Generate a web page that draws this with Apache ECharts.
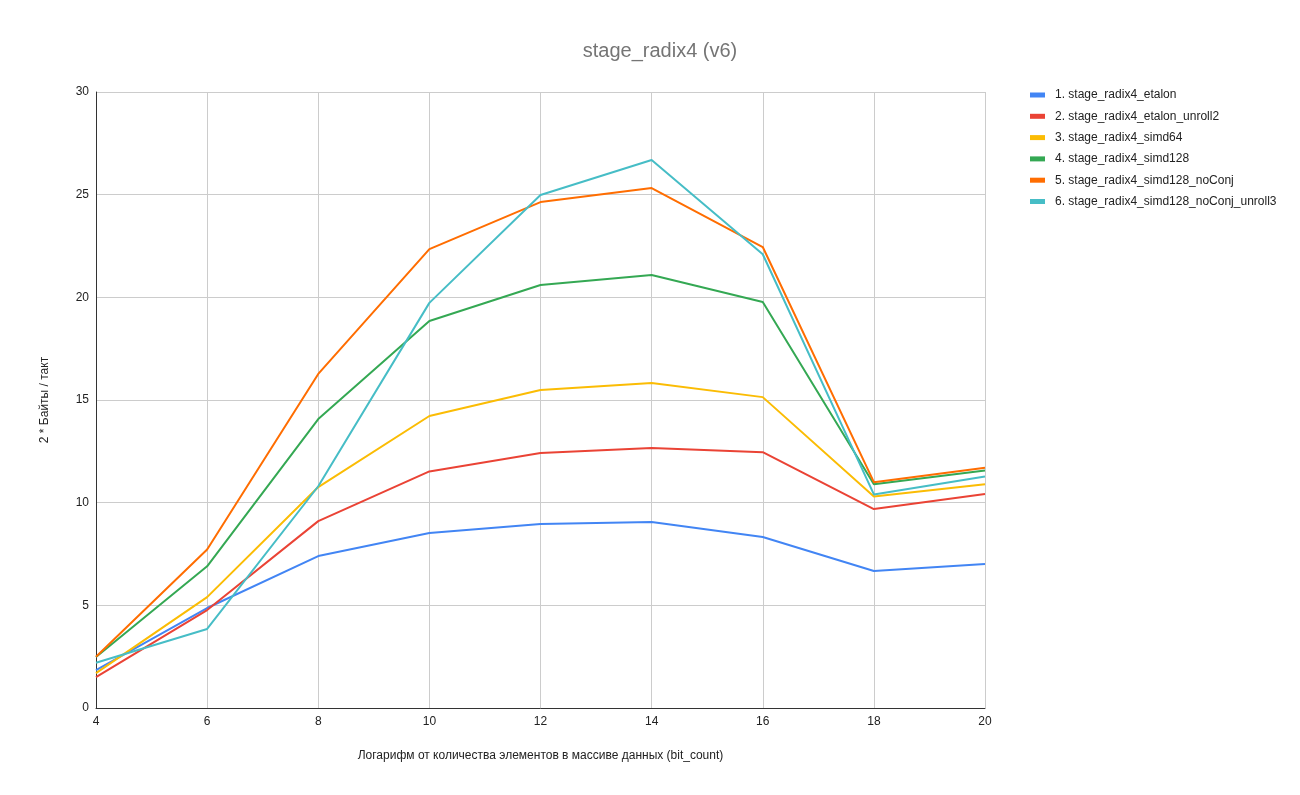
<!DOCTYPE html>
<html>
<head>
<meta charset="utf-8">
<script src="https://cdn.jsdelivr.net/npm/echarts@6/dist/echarts.min.js"></script>
<style>
  html, body { margin: 0; padding: 0; background: #fff; }
  #main { width: 1300px; height: 795px; }
</style>
</head>
<body>
<div id="main"></div>
<script>
// log2 of element count
var bitCount = [4, 6, 8, 10, 12, 14, 16, 18, 20]

var seriesNames = [
	'1. stage_radix4_etalon',
	'2. stage_radix4_etalon_unroll2',
	'3. stage_radix4_simd64',
	'4. stage_radix4_simd128',
	'5. stage_radix4_simd128_noConj',
	'6. stage_radix4_simd128_noConj_unroll3'
]

var etalon        = [1.85, 4.87, 7.40, 8.52, 8.96, 9.06, 8.33, 6.67, 7.01]
var etalonUnroll2 = [1.50, 4.77, 9.10, 11.52, 12.42, 12.66, 12.46, 9.69, 10.42]
var simd64        = [1.70, 5.40, 10.76, 14.22, 15.49, 15.83, 15.14, 10.30, 10.90]
var simd128       = [2.48, 6.90, 14.07, 18.85, 20.60, 21.09, 19.77, 10.90, 11.57]
var noConj        = [2.50, 7.72, 16.27, 22.35, 24.64, 25.32, 22.45, 11.00, 11.70]
var noConjUnroll3 = [2.20, 3.85, 10.80, 19.73, 24.98, 26.69, 22.10, 10.40, 11.27]

var colors = ['#4285F4', '#EA4335', '#FBBC04', '#34A853', '#FF6D01', '#46BDC6']

var allValues = [etalon, etalonUnroll2, simd64, simd128, noConj, noConjUnroll3]

var font = 'Arial, "Liberation Sans", sans-serif'

var chart = echarts.init(document.getElementById('main'))

var option = {
	animation: false,
	color: colors,
	textStyle: {fontFamily: font},
	title: {
		text: 'stage_radix4 (v6)',
		left: 655,
		textAlign: 'center',
		top: 36,
		textStyle: {fontFamily: font, fontSize: 20, fontWeight: 'normal', color: '#757575'}
	},
	legend: {
		orient: 'vertical',
		left: 1025,
		top: 84,
		itemWidth: 15,
		itemHeight: 5,
		itemGap: 9.3,
		icon: 'rect',
		textStyle: {fontFamily: font, fontSize: 12, color: '#222', padding: [0, 0, 0, 5]},
		data: seriesNames
	},
	grid: {left: 96, right: 315, top: 92, bottom: 87},
	xAxis: {
		type: 'value',
		min: 4, max: 20, interval: 2,
		name: 'Логарифм от количества элементов в массиве данных (bit_count)',
		nameLocation: 'middle',
		nameGap: 42,
		nameTextStyle: {fontFamily: font, fontSize: 12, color: '#222'},
		axisLine: {lineStyle: {color: '#333', width: 1}},
		axisTick: {show: false},
		axisLabel: {color: '#222', fontSize: 12, margin: 8},
		splitLine: {show: true, lineStyle: {color: '#ccc'}}
	},
	yAxis: {
		type: 'value',
		min: 0, max: 30, interval: 5,
		name: '2 * Байты / такт',
		nameLocation: 'middle',
		nameRotate: 90,
		nameGap: 45,
		nameTextStyle: {fontFamily: font, fontSize: 12, color: '#222'},
		axisLine: {show: true, lineStyle: {color: '#333', width: 1}},
		axisTick: {show: false},
		axisLabel: {color: '#222', fontSize: 12, margin: 7},
		splitLine: {lineStyle: {color: '#ccc'}}
	},
	series: seriesNames.map((name, i) => ({
		name: name,
		type: 'line',
		showSymbol: false,
		symbol: 'none',
		lineStyle: {width: 2},
		data: bitCount.map((x, k) => [x, allValues[i][k]])
	}))
}

option && chart.setOption(option)
</script>
</body>
</html>
